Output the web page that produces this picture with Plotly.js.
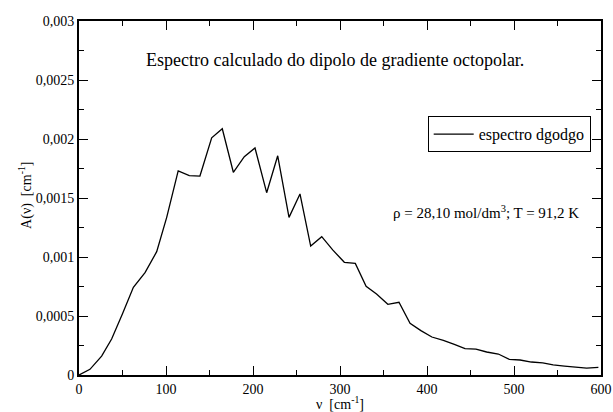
<!DOCTYPE html>
<html>
<head>
<meta charset="utf-8">
<script src="https://cdn.plot.ly/plotly-3.0.1.min.js"></script>
<style>
html,body{margin:0;padding:0;background:#fff;}
#chart{width:613px;height:412px;}
</style>
</head>
<body>
<div id="chart"></div>
<script>
const nu = [0, 12.6, 26, 37.5, 50, 62.5, 75.9, 89.3, 100.8, 114, 126.8, 139, 152.5, 164.7, 177.4, 190, 202.3, 215.7, 228.4, 241.4, 254, 266.3, 279, 291.6, 305, 317.6, 330, 342, 355, 367.8, 380.5, 393, 405.6, 418.8, 431.4, 443.7, 456.3, 468.6, 482, 494.6, 507, 520, 533, 545, 558, 571, 583.5, 597];
const A = [0, 0.000048, 0.00016, 0.000305, 0.00052, 0.000743, 0.000867, 0.001045, 0.001336, 0.00173, 0.00169, 0.001686, 0.00201, 0.002087, 0.001718, 0.00185, 0.001924, 0.001545, 0.001858, 0.001336, 0.001534, 0.001093, 0.001172, 0.00106, 0.000955, 0.000946, 0.000751, 0.000686, 0.000599, 0.000616, 0.000438, 0.000376, 0.000322, 0.000294, 0.00026, 0.000223, 0.00022, 0.000195, 0.000178, 0.000133, 0.000127, 0.00011, 0.000102, 0.000085, 0.000076, 0.00007, 0.000059, 0.000065];
const yTickVals = [0, 0.0005, 0.001, 0.0015, 0.002, 0.0025, 0.003];
const yTickText = ['0', '0,0005', '0,001', '0,0015', '0,002', '0,0025', '0,003'];
const xTickVals = [0, 100, 200, 300, 400, 500, 600];
const xTickText = ['0', '100', '200', '300', '400', '500', '600'];
const seriesName = 'espectro dgodgo';
const titleText = 'Espectro calculado do dipolo de gradiente octopolar.';
const condText = 'ρ = 28,10 mol/dm<sup>3</sup>; T = 91,2 K';
const xTitle = 'ν\u00A0\u00A0[cm<sup>-1</sup>]';
const yTitle = 'A(ν)\u00A0\u00A0[cm<sup>-1</sup>]';

const font = {family: 'Liberation Serif', color: '#000'};
const axisCommon = {
  showgrid: false, zeroline: false, showline: true, linecolor: '#000', linewidth: 2,
  mirror: 'ticks', ticks: 'inside', ticklen: 9, tickwidth: 1, tickcolor: '#000',
  tickfont: Object.assign({size: 14}, font)
};
const layout = {
  width: 613, height: 412,
  margin: {l: 79, r: 12, t: 21, b: 37},
  paper_bgcolor: '#fff', plot_bgcolor: '#fff',
  font: font,
  showlegend: true,
  legend: {x: 0.668, y: 0.68, xanchor: 'left', yanchor: 'middle', bgcolor: '#fff', bordercolor: '#000', borderwidth: 1,
           itemwidth: 40, font: Object.assign({size: 16}, font)},
  xaxis: Object.assign({}, axisCommon, {
    range: [0, 600], tickvals: xTickVals, ticktext: xTickText,
    minor: {dtick: 50, ticks: 'inside', ticklen: 5, tickcolor: '#000', tickwidth: 1},
    title: {text: xTitle, font: Object.assign({size: 14}, font), standoff: 4}
  }),
  yaxis: Object.assign({}, axisCommon, {
    range: [0, 0.003], tickvals: yTickVals, ticktext: yTickText,
    minor: {dtick: 0.00025, ticks: 'inside', ticklen: 5, tickcolor: '#000', tickwidth: 1}
  }),
  annotations: [
    {text: titleText, xref: 'paper', yref: 'paper', x: 0.4895, y: 0.89, xanchor: 'center', yanchor: 'middle', showarrow: false, font: Object.assign({size: 18}, font)},
    {text: condText, xref: 'paper', yref: 'paper', x: 0.779, y: 0.46, xanchor: 'center', yanchor: 'middle', showarrow: false, font: Object.assign({size: 15}, font)},
    {text: yTitle, xref: 'paper', yref: 'paper', x: -0.1015, y: 0.506, xanchor: 'center', yanchor: 'middle', textangle: -90, showarrow: false, font: Object.assign({size: 14}, font)}
  ]
};
const trace = {x: nu, y: A, type: 'scatter', mode: 'lines', name: seriesName, line: {color: '#000', width: 1.3}};
Plotly.newPlot('chart', [trace], layout, {displayModeBar: false, staticPlot: true});
</script>
</body>
</html>
